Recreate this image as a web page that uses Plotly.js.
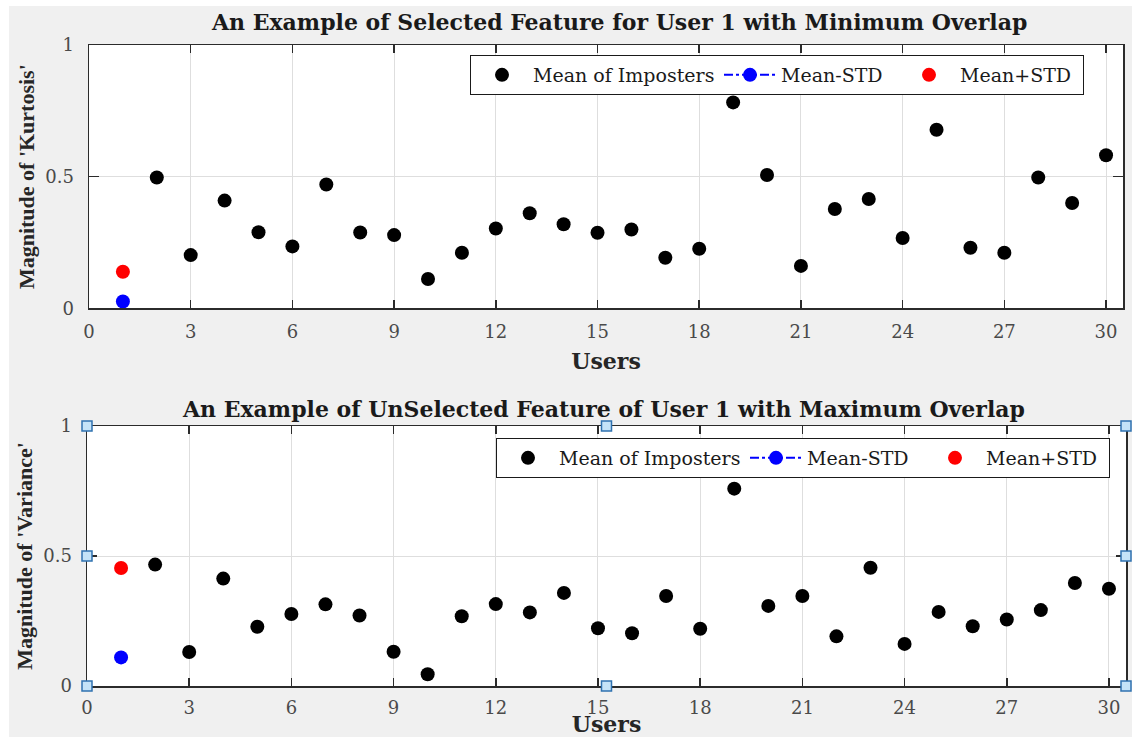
<!DOCTYPE html>
<html><head><meta charset="utf-8">
<script src="https://cdn.plot.ly/plotly-3.0.1.min.js"></script>
<style>
html,body{margin:0;padding:0;background:#ffffff;overflow:hidden;width:1132px;height:737px}
#chart{position:absolute;left:9px;top:6px;width:1123px;height:731px}
</style>
</head><body><div id="chart"></div>
<script>
// ---- data ----
const userOne = [1];
const users = [2,3,4,5,6,7,8,9,10,11,12,13,14,15,16,17,18,19,20,21,22,23,24,25,26,27,28,29,30];
const kurtosisImposters = [0.497,0.202,0.409,0.289,0.235,0.470,0.288,0.278,0.111,0.211,0.303,0.361,0.319,0.287,0.299,0.192,0.226,0.782,0.506,0.161,0.377,0.415,0.267,0.678,0.230,0.211,0.497,0.400,0.581];
const kurtosisMinusStd = [0.026];
const kurtosisPlusStd = [0.139];
const varianceImposters = [0.467,0.131,0.413,0.228,0.277,0.314,0.271,0.132,0.045,0.268,0.315,0.283,0.358,0.222,0.203,0.346,0.220,0.759,0.308,0.346,0.191,0.455,0.162,0.285,0.230,0.256,0.292,0.396,0.374];
const varianceMinusStd = [0.110];
const variancePlusStd = [0.454];
const xTicks = [0,3,6,9,12,15,18,21,24,27,30];
const yTicks = [0,0.5,1];
const yTickText = ['0','0.5','1'];
const legendNames = ['Mean of Imposters','Mean-STD','Mean+STD'];
const titles = ['An Example of Selected Feature for User 1 with Minimum Overlap','An Example of UnSelected Feature of User 1 with Maximum Overlap'];
const xTitle = 'Users';
const yTitles = ["Magnitude of 'Kurtosis'","Magnitude of 'Variance'"];

// ---- geometry helpers (page pixels -> paper) ----
const W = 1123, H = 731, OX = 9, OY = 6;
const px = x => (x - OX) / W;
const py = y => 1 - (y - OY) / H;

const SERIF_WIDE = 'DejaVu Serif';
const SERIF = 'Liberation Serif';
const MS = 14;

function makeTraces(xa, ya, leg, mean, minus, plus) {
  return [
    {x: users, y: mean, xaxis: xa, yaxis: ya, legend: leg, name: legendNames[0], type: 'scatter', mode: 'markers',
     marker: {color: '#000000', size: MS}, legendwidth: 181, hoverinfo: 'x+y'},
    {x: userOne, y: minus, xaxis: xa, yaxis: ya, legend: leg, name: legendNames[1], type: 'scatter', mode: 'lines+markers',
     line: {color: '#0000ff', dash: 'dashdot', width: 2}, marker: {color: '#0000ff', size: MS}, legendwidth: 112, hoverinfo: 'x+y'},
    {x: userOne, y: plus, xaxis: xa, yaxis: ya, legend: leg, name: legendNames[2], type: 'scatter', mode: 'markers',
     marker: {color: '#ff0000', size: MS}, legendwidth: 118, hoverinfo: 'x+y'}
  ];
}

const data = [
  ...makeTraces('x', 'y', 'legend', kurtosisImposters, kurtosisMinusStd, kurtosisPlusStd),
  ...makeTraces('x2', 'y2', 'legend2', varianceImposters, varianceMinusStd, variancePlusStd)
];

function xAxis(domain, anchor, standoff, labelStandoff) {
  return {
    domain: domain, anchor: anchor, range: [0, 30.5], tickmode: 'array', tickvals: xTicks,
    showgrid: true, gridcolor: '#dedede', gridwidth: 1, zeroline: false,
    showline: true, linecolor: '#2b2b2b', linewidth: 1.5, mirror: 'ticks',
    ticks: 'inside', ticklen: 8, tickwidth: 1.5, tickcolor: '#2b2b2b',
    tickfont: {family: SERIF_WIDE, size: 18, color: '#4a4a4a'}, ticklabelstandoff: labelStandoff,
    title: {text: '<b>' + xTitle + '</b>', font: {family: SERIF_WIDE, size: 22, color: '#262626'}, standoff: standoff}
  };
}
function yAxis(domain, anchor, title) {
  return {
    domain: domain, anchor: anchor, range: [0, 1], tickmode: 'array', tickvals: yTicks, ticktext: yTickText,
    showgrid: true, gridcolor: '#dedede', gridwidth: 1, zeroline: false,
    showline: true, linecolor: '#2b2b2b', linewidth: 1.5, mirror: 'ticks',
    ticks: 'inside', ticklen: 10, tickwidth: 1.5, tickcolor: '#2b2b2b',
    tickfont: {family: SERIF_WIDE, size: 18, color: '#4a4a4a'}, ticklabelstandoff: 10,
    title: {text: '<b>' + title + '</b>', font: {family: SERIF, size: 22, color: '#262626'}, standoff: 4}
  };
}

// selection handles on the lower axes (decoration)
const handles = [];
[[0,0],[0.5,0],[1,0],[0,0.5],[1,0.5],[0,1],[0.5,1],[1,1]].forEach(([hx, hy]) => {
  handles.push({type: 'rect', xref: 'x2 domain', yref: 'y2 domain', xsizemode: 'pixel', ysizemode: 'pixel',
    xanchor: hx, yanchor: hy, x0: -5, x1: 5, y0: -5, y1: 5,
    fillcolor: '#c4e3f8', line: {color: '#2f72b0', width: 1.5}, layer: 'above'});
});

const legendBase = {
  orientation: 'h', xanchor: 'left', yanchor: 'top', bgcolor: '#ffffff', bordercolor: '#1a1a1a', borderwidth: 1,
  font: {family: SERIF_WIDE, size: 19, color: '#1a1a1a'}, itemwidth: 52, traceorder: 'normal'
};

const layout = {
  width: W, height: H, margin: {l: 0, r: 0, t: 0, b: 0},
  paper_bgcolor: '#f0f0f0', plot_bgcolor: '#ffffff', showlegend: true,
  xaxis: xAxis([px(89), px(1123)], 'y', 12, 7),
  yaxis: yAxis([py(308.3), py(45)], 'x', yTitles[0]),
  xaxis2: xAxis([px(87), px(1126)], 'y2', 26, 5),
  yaxis2: yAxis([py(686), py(426)], 'x2', yTitles[1]),
  legend: Object.assign({}, legendBase, {x: px(470), y: py(55)}),
  legend2: Object.assign({}, legendBase, {x: px(496), y: py(438)}),
  annotations: [
    {text: '<b>' + titles[0] + '</b>', xref: 'paper', yref: 'paper', x: px(618.5), y: py(22), xanchor: 'center', yanchor: 'middle',
     showarrow: false, font: {family: SERIF_WIDE, size: 22, color: '#1a1a1a'}},
    {text: '<b>' + titles[1] + '</b>', xref: 'paper', yref: 'paper', x: px(603.5), y: py(409), xanchor: 'center', yanchor: 'middle',
     showarrow: false, font: {family: SERIF_WIDE, size: 22, color: '#1a1a1a'}}
  ],
  shapes: handles
};

Plotly.newPlot('chart', data, layout, {displayModeBar: false, staticPlot: true});
</script>
</body></html>
